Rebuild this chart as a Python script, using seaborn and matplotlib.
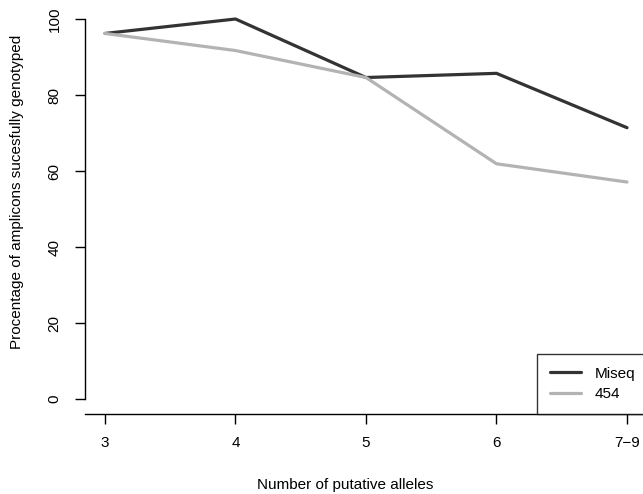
import numpy as np
import pandas as pd
import matplotlib
matplotlib.use("Agg")
import matplotlib.pyplot as plt
import seaborn as sns

# values
alleles = ["3", "4", "5", "6", "7\u22129"]
miseq = [96.2, 100.0, 84.6, 85.7, 71.4]
gs454 = [96.2, 91.7, 84.6, 61.9, 57.1]

sns.set_style("ticks")
plt.rcParams['font.family'] = ['Liberation Sans', 'DejaVu Sans']
FS = 11
plt.rcParams['font.size'] = FS

df = pd.DataFrame({
    'pos': list(range(len(alleles))) * 2,
    'value': miseq + gs454,
    'platform': ['Miseq'] * len(alleles) + ['454'] * len(alleles),
})

W, H = 643, 494
fig = plt.figure(figsize=(W / 100, H / 100), dpi=100)
# axes placed in pixel terms: left spine at x=85, x axis at y=414
ax = fig.add_axes([85 / W, (H - 414) / H, 1 - 85 / W, (414 - 5) / H])

sns.lineplot(data=df, x='pos', y='value', hue='platform',
             palette={'Miseq': '#333333', '454': '#b3b3b3'},
             linewidth=2.3, ax=ax, legend=False, clip_on=False,
             solid_capstyle='round')

px_per_unit_y = 3.8
ax.set_ylim(-15 / px_per_unit_y, (399 - 5) / px_per_unit_y)
ax.set_xlim(-20 / 130.5, (643 - 105) / 130.5)

ax.set_xticks(range(len(alleles)))
ax.set_xticklabels(alleles)
ax.set_yticks([0, 20, 40, 60, 80, 100])
ax.tick_params(axis='both', length=7, width=1, color='black',
               labelsize=FS, labelcolor='black')
ax.tick_params(axis='x', pad=9)
ax.tick_params(axis='y', pad=10, labelrotation=90)
for lab in ax.get_yticklabels():
    lab.set_va('center')

sns.despine(ax=ax, top=True, right=True)
ax.spines['left'].set_bounds(0, 100)
for s in ('left', 'bottom'):
    ax.spines[s].set_linewidth(1)
    ax.spines[s].set_color('black')

ax.set_xlabel('')
ax.set_ylabel('')
fig.text(345 / W, 1 - 485 / H, 'Number of putative alleles',
         ha='center', va='center', fontsize=FS, color='black')
fig.text(17.5 / W, 1 - 192 / H, 'Procentage of amplicons sucesfully genotyped',
         ha='center', va='center', rotation=90, fontsize=FS, color='black')

handles = [plt.Line2D([], [], color='#333333', lw=2.3),
           plt.Line2D([], [], color='#b3b3b3', lw=2.3)]
leg = fig.legend(handles, ['Miseq', '454'], loc='lower left',
                 bbox_to_anchor=(537 / W, (H - 414) / H),
                 frameon=True, fancybox=False, handlelength=2.0,
                 handletextpad=0.9, borderpad=0.85, labelspacing=0.42,
                 borderaxespad=0, fontsize=FS)
leg.get_frame().set_edgecolor('black')
leg.get_frame().set_linewidth(1)
for t in leg.get_texts():
    t.set_color('black')

fig.savefig('out.png', dpi=100)
